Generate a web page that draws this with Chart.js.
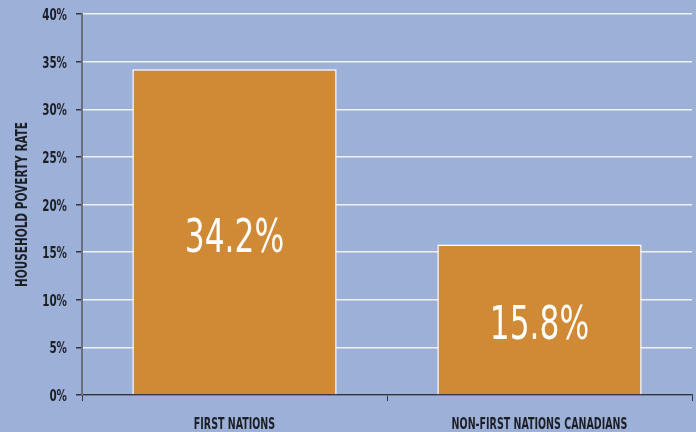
<!DOCTYPE html>
<html>
<head>
<meta charset="utf-8">
<script src="https://cdn.jsdelivr.net/npm/chart.js@4"></script>
<style>
  html, body { margin: 0; padding: 0; background: #9db0d8; }
  #wrap { width: 696px; height: 432px; }
</style>
</head>
<body>
<div id="wrap"><canvas id="povertyChart" width="696" height="432"></canvas></div>
<script>
const categories = ['FIRST NATIONS', 'NON-FIRST NATIONS CANADIANS'];
const povertyRates = [34.2, 15.8];
const yTicks = [0, 5, 10, 15, 20, 25, 30, 35, 40];
const yTitle = 'HOUSEHOLD POVERTY RATE';

const condensed = '"DejaVu Sans Condensed", "DejaVu Sans", sans-serif';
const textColor = '#1d1f26';

// draw text squeezed horizontally, to look like the narrow original typeface
function narrowText(ctx, text, x, y, font, align, sx, color) {
    ctx.save();
    ctx.translate(x, y);
    ctx.scale(sx, 1);
    ctx.font = font;
    ctx.fillStyle = color;
    ctx.textAlign = align;
    ctx.textBaseline = 'alphabetic';
    ctx.fillText(text, 0, 0);
    ctx.restore();
}

const textLayer = {
    id: 'textLayer',
    afterDraw(chart) {
        const ctx = chart.ctx;
        const xs = chart.scales.x;
        const ys = chart.scales.y;

        // y tick labels
        yTicks.forEach(v => {
            narrowText(ctx, v + '%', 67, ys.getPixelForValue(v) + 6, 'bold 16px ' + condensed, 'right', 0.72, textColor);
        });

        // category labels
        categories.forEach((c, i) => {
            narrowText(ctx, c, xs.getPixelForValue(i), 429, 'bold 16px ' + condensed, 'center', 0.66, textColor);
        });

        // axis title
        ctx.save();
        ctx.translate(27, (chart.chartArea.top + chart.chartArea.bottom) / 2);
        ctx.rotate(-Math.PI / 2);
        narrowText(ctx, yTitle, 0, 0, 'bold 16px ' + condensed, 'center', 0.73, textColor);
        ctx.restore();

        // values inside the bars
        const meta = chart.getDatasetMeta(0);
        meta.data.forEach((bar, i) => {
            const mid = (bar.y + bar.base) / 2;
            narrowText(ctx, povertyRates[i].toFixed(1) + '%', bar.x, mid + 20, '47px ' + condensed, 'center', 0.74, '#ffffff');
        });
    }
};

new Chart(document.getElementById('povertyChart').getContext('2d'), {
    type: 'bar',
    data: {
        labels: categories,
        datasets: [{
            data: povertyRates,
            backgroundColor: '#d08935',
            borderColor: '#ffffff',
            borderWidth: 1.5,
            barPercentage: 0.67,
            categoryPercentage: 1
        }]
    },
    options: {
        responsive: false,
        animation: false,
        layout: { padding: { top: 14, right: 4, left: 0, bottom: 0 } },
        plugins: {
            legend: { display: false },
            tooltip: { enabled: false }
        },
        scales: {
            x: {
                offset: true,
                afterFit: s => { s.height = 37; },
                grid: { display: true, drawOnChartArea: false, offset: true, tickLength: 6, color: '#2f343e', lineWidth: 1 },
                border: { color: '#2f343e', width: 1.5 },
                ticks: { display: false }
            },
            y: {
                min: 0,
                max: 40,
                afterFit: s => { s.width = 82; },
                afterBuildTicks: axis => { axis.ticks = yTicks.map(v => ({ value: v })); },
                grid: { color: '#eef1f8', lineWidth: 1.5, tickColor: '#2f343e', tickLength: 6 },
                border: { color: '#6b707c', width: 2 },
                ticks: { display: false }
            }
        }
    },
    plugins: [textLayer]
});
</script>
</body>
</html>
